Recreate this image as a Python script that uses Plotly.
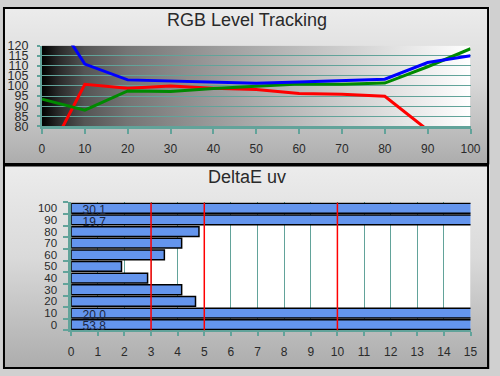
import base64
import plotly.graph_objects as go
from plotly.subplots import make_subplots

# ---------------- data ----------------
levels = [0, 10, 20, 30, 40, 50, 60, 70, 80, 90, 100]
red_vals = [60.0, 100.8, 98.9, 100.0, 98.9, 98.2, 96.3, 95.9, 94.9, 78.2, 65.0]
green_vals = [93.5, 88.0, 97.5, 97.3, 98.7, 99.8, 101.0, 100.8, 101.4, 109.5, 118.4]
blue_vals = [143.8, 110.8, 103.0, 102.4, 101.9, 101.3, 102.0, 102.7, 103.3, 111.6, 114.9]

delta_levels = [0, 10, 20, 30, 40, 50, 60, 70, 80, 90, 100]
delta_vals = [53.8, 20.0, 4.67, 4.15, 2.87, 1.89, 3.5, 4.15, 4.8, 19.7, 30.1]
threshold_lines = [3, 5, 10]

top_title = "RGB Level Tracking"
bottom_title = "DeltaE uv"

# ---------------- style ----------------
W, H = 500, 376
TEAL = "#62a39a"
FONT = "Arial, Liberation Sans, sans-serif"
TXT = "#2a2a2a"


def py(px):
    return 1 - px / H


def px_x(px):
    return px / W


def svg_uri(svg):
    return "data:image/svg+xml;base64," + base64.b64encode(svg.encode()).decode()


panel_svg = svg_uri(
    '<svg xmlns="http://www.w3.org/2000/svg" width="100" height="100" preserveAspectRatio="none">'
    '<defs><linearGradient id="g" x1="0" y1="0" x2="0" y2="1">'
    '<stop offset="0" stop-color="#ececec"/><stop offset="0.45" stop-color="#dadada"/>'
    '<stop offset="1" stop-color="#acacac"/></linearGradient></defs>'
    '<rect width="100" height="100" fill="url(#g)"/></svg>'
)
plot_svg = svg_uri(
    '<svg xmlns="http://www.w3.org/2000/svg" width="100" height="100" preserveAspectRatio="none">'
    '<defs><linearGradient id="h" x1="0" y1="0" x2="1" y2="0">'
    '<stop offset="0" stop-color="#000000"/><stop offset="0.04" stop-color="#2a2a2a"/>'
    '<stop offset="0.1" stop-color="#555555"/><stop offset="0.2" stop-color="#757575"/>'
    '<stop offset="0.4" stop-color="#9a9a9a"/><stop offset="0.6" stop-color="#bcbcbc"/>'
    '<stop offset="0.8" stop-color="#dedede"/><stop offset="1" stop-color="#ffffff"/>'
    '</linearGradient></defs><rect width="100" height="100" fill="url(#h)"/></svg>'
)

fig = make_subplots(rows=2, cols=1)

for vals, col in [(red_vals, "#ff0000"), (green_vals, "#008a00"), (blue_vals, "#0000ff")]:
    fig.add_trace(
        go.Scatter(x=levels, y=vals, mode="lines", line=dict(color=col, width=3),
                   showlegend=False, hoverinfo="skip"),
        row=1, col=1,
    )

fig.add_trace(
    go.Bar(x=delta_vals, y=delta_levels, orientation="h", width=8.4,
           marker=dict(color="#6495ed", line=dict(color="#000000", width=1.5)),
           showlegend=False, hoverinfo="skip"),
    row=2, col=1,
)

xmax = 15
labels = [f"{v:.1f}" if v > xmax else "" for v in delta_vals]
fig.add_trace(
    go.Scatter(x=[0.43] * len(delta_levels), y=[l - 2.3 for l in delta_levels], mode="text",
               text=labels, textposition="middle right",
               textfont=dict(family=FONT, size=12, color="#1c2640"),
               showlegend=False, hoverinfo="skip", cliponaxis=False),
    row=2, col=1,
)

shapes = []
# panel borders
shapes.append(dict(type="rect", xref="paper", yref="paper", x0=px_x(1), x1=px_x(498),
                   y0=py(163), y1=py(1), line=dict(color="#000", width=2), layer="above"))
shapes.append(dict(type="rect", xref="paper", yref="paper", x0=px_x(1), x1=px_x(498),
                   y0=py(375), y1=py(164.5), line=dict(color="#000", width=2), layer="above"))
# white plot background for bottom plot
shapes.append(dict(type="rect", xref="x2", yref="y2", x0=0, x1=xmax, y0=-5, y1=105,
                   fillcolor="#ffffff", line=dict(width=0), layer="below"))
for t in threshold_lines:
    shapes.append(dict(type="line", xref="x2", yref="y2", x0=t, x1=t, y0=-5, y1=105,
                       line=dict(color="#ff0000", width=1.5), layer="above"))

images = [
    dict(source=panel_svg, xref="paper", yref="paper", x=0, y=1, sizex=1, sizey=163 / H,
         xanchor="left", yanchor="top", sizing="stretch", layer="below"),
    dict(source=panel_svg, xref="paper", yref="paper", x=0, y=py(164), sizex=1,
         sizey=(376 - 164) / H, xanchor="left", yanchor="top", sizing="stretch", layer="below"),
    dict(source=plot_svg, xref="x", yref="y", x=0, y=120, sizex=100, sizey=40,
         xanchor="left", yanchor="top", sizing="stretch", layer="below"),
]

annotations = [
    dict(text=top_title, xref="paper", yref="paper", x=0.5, y=py(14), showarrow=False,
         font=dict(family=FONT, size=18, color=TXT), xanchor="center", yanchor="middle"),
    dict(text=bottom_title, xref="paper", yref="paper", x=0.5, y=py(177), showarrow=False,
         font=dict(family=FONT, size=18, color=TXT), xanchor="center", yanchor="middle"),
]

fig.update_layout(
    autosize=True, margin=dict(l=0, r=0, t=0, b=0),
    paper_bgcolor="#d0d0d0", plot_bgcolor="rgba(0,0,0,0)",
    shapes=shapes, images=images, annotations=annotations,
    font=dict(family=FONT, color=TXT),
    xaxis=dict(domain=[px_x(40), px_x(480)], range=[0, 100], tickvals=levels,
               showgrid=False, zeroline=False, showline=True, linecolor=TEAL, linewidth=3,
               ticks="outside", ticklen=5, tickwidth=2, tickcolor=TEAL,
               tickfont=dict(size=12, color=TXT), ticklabelstandoff=4),
    yaxis=dict(domain=[py(124), py(40)], range=[80, 120], tickvals=list(range(80, 121, 5)),
               showgrid=True, gridcolor=TEAL, gridwidth=1, zeroline=False,
               showline=True, linecolor=TEAL, linewidth=2,
               ticks="outside", ticklen=3, tickwidth=2, tickcolor=TEAL,
               tickfont=dict(size=12.5, color=TXT), ticklabelstandoff=6),
    xaxis2=dict(domain=[px_x(70), px_x(480)], range=[0, xmax], tickvals=list(range(0, xmax + 1)),
                showgrid=True, gridcolor=TEAL, gridwidth=1, zeroline=False,
                showline=True, linecolor=TEAL, linewidth=2,
                ticks="outside", ticklen=4, tickwidth=2, tickcolor=TEAL,
                tickfont=dict(size=12, color=TXT), ticklabelstandoff=5),
    yaxis2=dict(domain=[py(336), py(203)], range=[-5, 105], tickvals=delta_levels,
                showgrid=False, zeroline=False, showline=True, linecolor=TEAL, linewidth=2.5,
                ticks="",
                minor=dict(tick0=-5, dtick=10, ticks="outside", ticklen=5, tickwidth=2,
                           tickcolor=TEAL, showgrid=False),
                tickfont=dict(size=11.5, color=TXT), ticklabelstandoff=9),
)

fig.write_html(
    "out.html",
    config={"displayModeBar": False, "responsive": True},
    default_width="100vw",
    default_height="100vh",
    post_script=(
        "document.body.style.margin='0';"
        "document.body.style.overflow='hidden';"
        "document.documentElement.style.overflow='hidden';"
        "window.dispatchEvent(new Event('resize'));"
    ),
)
